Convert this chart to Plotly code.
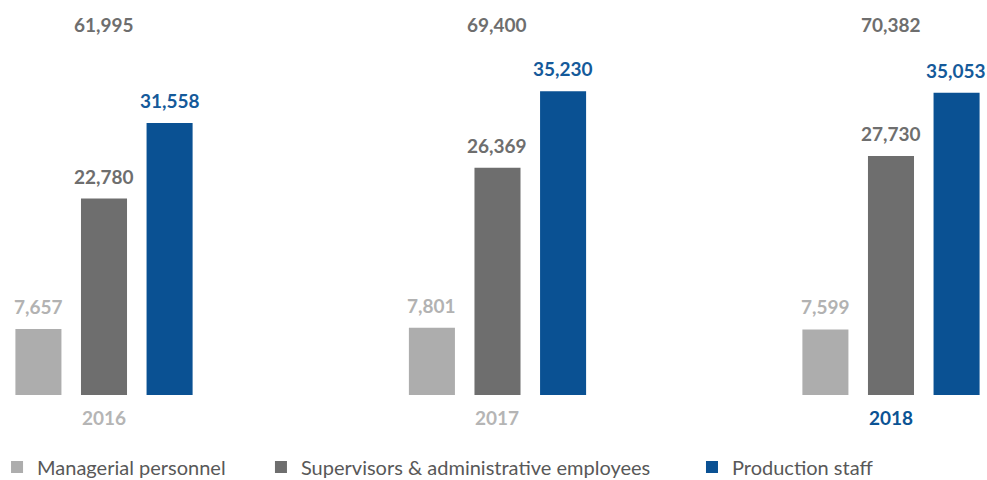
import plotly.graph_objects as go

years = ["2016", "2017", "2018"]
managerial = [7657, 7801, 7599]
supervisors = [22780, 26369, 27730]
production = [31558, 35230, 35053]
series_names = ["Managerial personnel", "Supervisors & administrative employees", "Production staff"]
year_label_colors = ["#B5B5B5", "#B5B5B5", "#0B5394"]

bar_colors = ["#ADADAD", "#6E6E6E", "#0A5193"]
label_colors = ["#B2B2B2", "#6E6E6E", "#155A9A"]
all_series = [managerial, supervisors, production]
totals = [sum(v) for v in zip(*all_series)]

FONT = "Lato"
legend_ids = ["legend", "legend2", "legend3"]
legend_x = [-0.0030, 0.2644, 0.7011]

fig = go.Figure()
for name, vals, col, lid in zip(series_names, all_series, bar_colors, legend_ids):
    fig.add_trace(go.Bar(x=years, y=vals, name=name, legend=lid,
                         marker=dict(color=col, line=dict(width=0)), hoverinfo="skip"))

slot = 65.5
offsets = [-slot, 0, slot]
annotations = []
for vals, lc, off in zip(all_series, label_colors, offsets):
    for i, v in enumerate(vals):
        annotations.append(dict(x=i, y=v, xref="x", yref="y", text="<b>" + f"{v:,}" + "</b>",
                                showarrow=False, yanchor="bottom", xanchor="center",
                                xshift=off, yshift=9,
                                font=dict(family=FONT, size=19, color=lc)))
for i, t in enumerate(totals):
    annotations.append(dict(x=i, y=1, xref="x", yref="paper", text="<b>" + f"{t:,}" + "</b>",
                            showarrow=False, yanchor="middle", xanchor="center",
                            yshift=-24.5, font=dict(family=FONT, size=19, color="#6E6E6E")))
for i, (yr, c) in enumerate(zip(years, year_label_colors)):
    annotations.append(dict(x=i, y=0, xref="x", yref="paper", text="<b>" + yr + "</b>",
                            showarrow=False, yanchor="middle", xanchor="center",
                            yshift=-22, font=dict(family=FONT, size=19, color=c)))

legend_common = dict(orientation="h", y=-0.1329, yanchor="top", xanchor="left",
                     bgcolor="rgba(0,0,0,0)",
                     font=dict(family=FONT, size=20, color="#585858"))

fig.update_layout(
    width=987, height=480,
    margin=dict(l=0, r=0, t=0, b=85, autoexpand=False),
    paper_bgcolor="white", plot_bgcolor="white",
    barmode="group", bargap=0.5, bargroupgap=0.298,
    showlegend=True,
    legend=dict(x=legend_x[0], **legend_common),
    legend2=dict(x=legend_x[1], **legend_common),
    legend3=dict(x=legend_x[2], **legend_common),
    xaxis=dict(type="category", range=[-0.2643, 2.244], showticklabels=False,
               showgrid=False, zeroline=False, showline=False, ticks=""),
    yaxis=dict(range=[0, 45820], showticklabels=False, showgrid=False, zeroline=False,
               showline=False, ticks=""),
    annotations=annotations,
)

fig.write_html("out.html", config={"displayModeBar": False},
               post_script="document.body.style.margin='0';document.body.style.overflow='hidden';")
